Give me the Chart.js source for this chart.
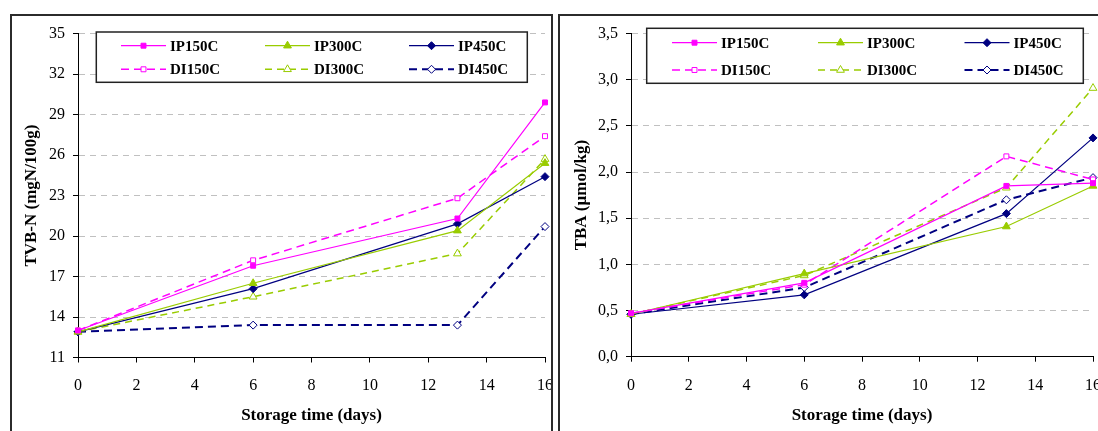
<!DOCTYPE html>
<html>
<head>
<meta charset="utf-8">
<script src="https://cdn.jsdelivr.net/npm/chart.js@4/dist/chart.umd.min.js"></script>
<style>
  html, body { margin: 0; padding: 0; background: #fff; width: 1098px; height: 431px; overflow: hidden; }
  .khung { position: absolute; top: 14px; height: 480px; border: 2px solid #2b2b2b; overflow: hidden; background: #fff; }
  #khungTrai { left: 10px; width: 539px; }
  #khungPhai { left: 558px; width: 600px; }
  canvas { position: absolute; left: 0; top: 0; }
</style>
</head>
<body>
<div class="khung" id="khungTrai"><canvas id="TVBN" width="560" height="415"></canvas></div>
<div class="khung" id="khungPhai"><canvas id="TBA" width="560" height="415"></canvas></div>
<script>
// Dữ liệu ---------------------------------------------------------------
const ngay = [0, 6, 13, 16];
const tenChuoi = ['IP150C', 'IP300C', 'IP450C', 'DI150C', 'DI300C', 'DI450C'];

// TVB-N (mgN/100g)
const tvbIP150 = [13.0, 17.8, 21.3, 29.9];
const tvbIP300 = [12.9, 16.5, 20.4, 25.4];
const tvbIP450 = [12.9, 16.1, 20.9, 24.4];
const tvbDI150 = [13.0, 18.2, 22.8, 27.4];
const tvbDI300 = [12.9, 15.5, 18.7, 25.7];
const tvbDI450 = [12.9, 13.4, 13.4, 20.7];

// TBA (µmol/kg)
const tbaIP150 = [0.47, 0.80, 1.85, 1.88];
const tbaIP300 = [0.46, 0.90, 1.41, 1.85];
const tbaIP450 = [0.46, 0.67, 1.55, 2.37];
const tbaDI150 = [0.47, 0.78, 2.17, 1.92];
const tbaDI300 = [0.46, 0.88, 1.83, 2.91];
const tbaDI450 = [0.46, 0.75, 1.70, 1.94];

const hong = '#ff00ff';
const xanhLa = '#99cc00';
const xanhDam = '#000080';

Chart.defaults.font.family = '"Liberation Serif", "Times New Roman", serif';
Chart.defaults.color = '#000';

// kiểu đường cho từng chuỗi
const kieu = [
  { mau: hong,   diem: 'rect',    dac: true,  net: [],     day: 1.2, r: 3.5 },
  { mau: xanhLa, diem: 'triangle',dac: true,  net: [],     day: 1.2, r: 4.5 },
  { mau: xanhDam,diem: 'rectRot', dac: true,  net: [],     day: 1.2, r: 4   },
  { mau: hong,   diem: 'rect',    dac: false, net: [8, 5], day: 1.5, r: 3.5 },
  { mau: xanhLa, diem: 'triangle',dac: false, net: [7, 5], day: 1.5, r: 4.5 },
  { mau: xanhDam,diem: 'rectRot', dac: false, net: [8, 5], day: 2,   r: 4   }
];

function taoChuoi(cacMang) {
  return cacMang.map((mang, i) => ({
    label: tenChuoi[i],
    data: mang.map((v, j) => ({ x: ngay[j], y: v })),
    borderColor: kieu[i].mau,
    borderWidth: kieu[i].day,
    borderDash: kieu[i].net,
    pointStyle: kieu[i].diem,
    pointRadius: kieu[i].r,
    pointBorderWidth: 1,
    pointBackgroundColor: kieu[i].dac ? kieu[i].mau : '#fff',
    pointBorderColor: kieu[i].mau,
    tension: 0,
    clip: false
  }));
}

// Chú giải tự vẽ trong khung
const chuGiai = {
  id: 'chuGiai',
  afterDraw(chart, args, opts) {
    const ctx = chart.ctx;
    const [x0, y0, x1, y1] = opts.khung;
    ctx.save();
    ctx.fillStyle = '#fff';
    ctx.fillRect(x0, y0, x1 - x0, y1 - y0);
    ctx.strokeStyle = '#222';
    ctx.lineWidth = 1.5;
    ctx.strokeRect(x0, y0, x1 - x0, y1 - y0);
    ctx.font = 'bold 15px "Liberation Serif", serif';
    ctx.textBaseline = 'middle';
    chart.data.datasets.forEach((ds, i) => {
      const y = opts.hang[Math.floor(i / 3)];
      const x = opts.cot[i % 3];
      ctx.strokeStyle = ds.borderColor;
      ctx.lineWidth = ds.borderWidth;
      ctx.setLineDash(ds.borderDash);
      ctx.beginPath();
      ctx.moveTo(x, y);
      ctx.lineTo(x + 45, y);
      ctx.stroke();
      ctx.setLineDash([]);
      ctx.fillStyle = ds.pointBackgroundColor;
      ctx.strokeStyle = ds.borderColor;
      ctx.lineWidth = 1;
      Chart.helpers.drawPoint(ctx, { pointStyle: ds.pointStyle, radius: ds.pointRadius, borderWidth: 1, rotation: 0 }, x + 22.5, y);
      ctx.fillStyle = '#000';
      ctx.fillText(ds.label, x + 49, y + 1);
    });
    ctx.restore();
  }
};

function veBieuDo(id, cacMang, yMin, yMax, buoc, tieuDeY, dinhDang, rongTrucY, caoTrucX, dem, tieuDePad, chuGiaiOpt) {
  return new Chart(document.getElementById(id), {
    type: 'line',
    data: { datasets: taoChuoi(cacMang) },
    plugins: [chuGiai],
    options: {
      responsive: false,
      animation: false,
      layout: { autoPadding: false, padding: dem },
      plugins: { legend: { display: false }, tooltip: { enabled: false }, chuGiai: chuGiaiOpt },
      scales: {
        x: {
          type: 'linear', min: 0, max: 16,
          ticks: { stepSize: 2, padding: 14, font: { size: 16 }, color: '#000' },
          grid: { drawOnChartArea: false, tickLength: 5, color: '#000', tickColor: '#000' },
          border: { color: '#000', width: 1 },
          title: { display: true, text: 'Storage time (days)', color: '#000', font: { size: 17, weight: 'bold' }, padding: { top: 0, bottom: 5 } },
          afterFit(s) { s.height = caoTrucX; }
        },
        y: {
          min: yMin, max: yMax,
          ticks: { stepSize: buoc, padding: 8, font: { size: 16 }, color: '#000', callback: dinhDang },
          grid: { color: '#c0c0c0', tickLength: 5, tickColor: '#000', tickBorderDash: [] },
          border: { color: '#000', width: 1, dash: [6, 5] },
          title: { display: true, text: tieuDeY, color: '#000', font: { size: 17, weight: 'bold' }, padding: { top: tieuDePad, bottom: 0 } },
          afterFit(s) { s.width = rongTrucY; }
        }
      }
    }
  });
}

veBieuDo('TVBN', [tvbIP150, tvbIP300, tvbIP450, tvbDI150, tvbDI300, tvbDI450],
  11, 35, 3, 'TVB-N (mgN/100g)', v => v,
  66, 73.5, { left: 0, top: 16, right: 27, bottom: 0 }, 9.5,
  { khung: [84.3, 16, 515.3, 66.3], hang: [29.7, 53.3], cot: [109, 253, 397] });

veBieuDo('TBA', [tbaIP150, tbaIP300, tbaIP450, tbaDI150, tbaDI300, tbaDI450],
  0, 3.5, 0.5, 'TBA (µmol/kg)', v => v.toFixed(1).replace('.', ','),
  71, 74.3, { left: 0, top: 16, right: 27, bottom: 0 }, 11.5,
  { khung: [86.7, 12.3, 523.3, 67.3], hang: [26.7, 54], cot: [112, 258, 404.5] });
</script>
</body>
</html>
